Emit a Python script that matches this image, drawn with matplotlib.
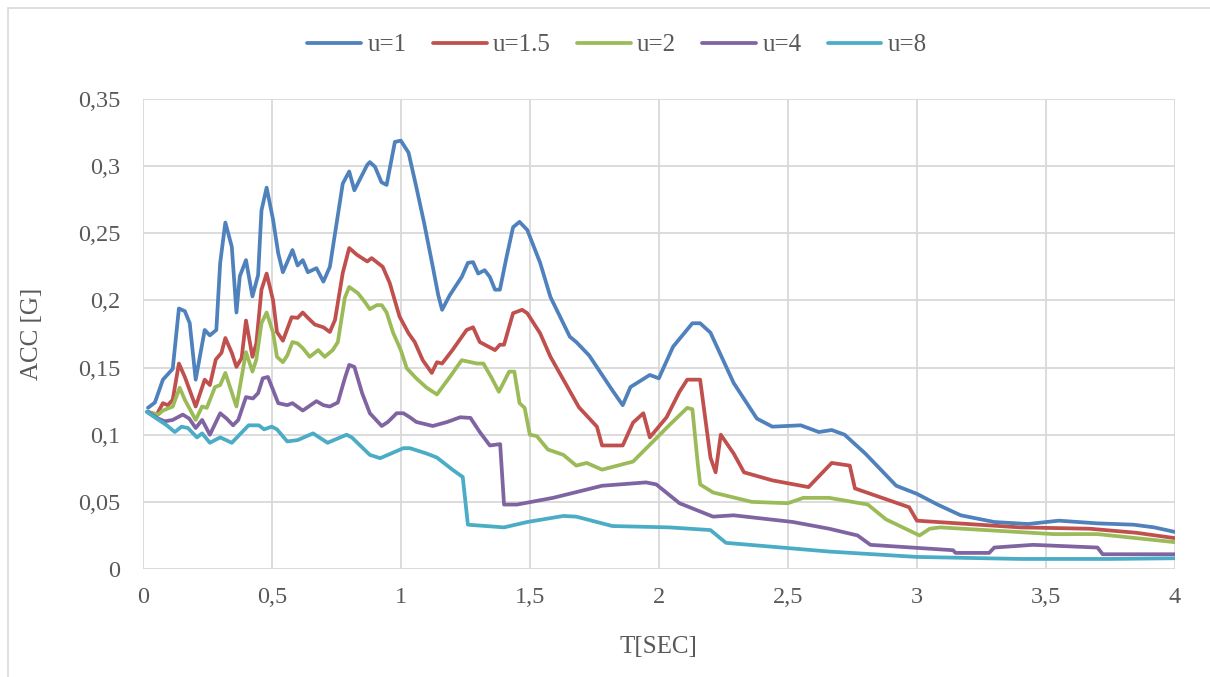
import matplotlib.pyplot as plt
from matplotlib.ticker import FuncFormatter, MultipleLocator
from matplotlib.patches import Rectangle

plt.rcParams['font.family'] = ['Liberation Serif', 'DejaVu Serif']

# u=1
t_u1 = [0.02, 0.047, 0.078, 0.116, 0.14, 0.163, 0.182, 0.205, 0.24, 0.26, 0.285, 0.30, 0.32, 0.345,
        0.363, 0.376, 0.40, 0.425, 0.447, 0.46, 0.48, 0.505, 0.525, 0.543, 0.58, 0.60, 0.62, 0.64,
        0.673, 0.70, 0.725, 0.775, 0.80, 0.82, 0.87, 0.88, 0.90, 0.925, 0.945, 0.977, 1.0, 1.03,
        1.06, 1.09, 1.124, 1.145, 1.16, 1.19, 1.236, 1.26, 1.28, 1.30, 1.325, 1.345, 1.365, 1.384,
        1.41, 1.435, 1.46, 1.49, 1.54, 1.58, 1.655, 1.68, 1.73, 1.82, 1.86, 1.89, 1.965, 2.00,
        2.055, 2.13, 2.16, 2.20, 2.29, 2.38, 2.44, 2.55, 2.62, 2.67, 2.72, 2.80, 2.92, 3.0, 3.08,
        3.17, 3.30, 3.43, 3.55, 3.70, 3.84, 3.92, 4.0]
acc_u1 = [0.120, 0.124, 0.141, 0.149, 0.194, 0.192, 0.183, 0.141, 0.178, 0.174, 0.178, 0.228, 0.258,
          0.240, 0.191, 0.218, 0.230, 0.203, 0.219, 0.267, 0.284, 0.260, 0.235, 0.221, 0.2375, 0.226,
          0.230, 0.221, 0.224, 0.214, 0.225, 0.287, 0.296, 0.282, 0.301, 0.303, 0.2995, 0.288, 0.286,
          0.318, 0.319, 0.310, 0.2845, 0.258, 0.225, 0.204, 0.193, 0.204, 0.2175, 0.228, 0.2285,
          0.220, 0.2225, 0.2175, 0.208, 0.208, 0.2325, 0.2545, 0.2585, 0.2525, 0.228, 0.2025, 0.173,
          0.169, 0.159, 0.133, 0.122, 0.1355, 0.1445, 0.142, 0.1655, 0.183, 0.183, 0.176, 0.1385,
          0.112, 0.106, 0.107, 0.102, 0.1035, 0.100, 0.086, 0.062, 0.056, 0.048, 0.040, 0.035,
          0.0335, 0.036, 0.034, 0.033, 0.031, 0.0276]

# u=1.5
t_u15 = [0.02, 0.054, 0.078, 0.097, 0.116, 0.14, 0.163, 0.205, 0.24, 0.26, 0.283, 0.305, 0.32, 0.345,
         0.363, 0.383, 0.40, 0.425, 0.44, 0.46, 0.48, 0.505, 0.52, 0.543, 0.577, 0.60, 0.62, 0.64,
         0.667, 0.70, 0.725, 0.745, 0.775, 0.80, 0.83, 0.87, 0.887, 0.93, 0.957, 0.995, 1.03, 1.054,
         1.085, 1.12, 1.14, 1.16, 1.20, 1.255, 1.28, 1.306, 1.365, 1.384, 1.40, 1.435, 1.47, 1.49,
         1.54, 1.58, 1.63, 1.69, 1.76, 1.78, 1.86, 1.90, 1.94, 1.965, 2.03, 2.08, 2.11, 2.16, 2.20,
         2.22, 2.24, 2.29, 2.33, 2.44, 2.58, 2.62, 2.67, 2.74, 2.76, 2.97, 3.00, 3.40, 3.67, 3.85, 4.0]
acc_u15 = [0.117, 0.115, 0.1235, 0.122, 0.126, 0.153, 0.143, 0.121, 0.141, 0.137, 0.156, 0.161, 0.172,
           0.161, 0.1505, 0.157, 0.185, 0.158, 0.168, 0.208, 0.220, 0.200, 0.1765, 0.170, 0.1875,
           0.187, 0.191, 0.187, 0.182, 0.180, 0.1765, 0.1855, 0.2205, 0.239, 0.234, 0.229, 0.2315,
           0.225, 0.213, 0.188, 0.1755, 0.169, 0.1555, 0.146, 0.154, 0.153, 0.163, 0.178, 0.180,
           0.169, 0.163, 0.167, 0.167, 0.1905, 0.193, 0.1905, 0.1755, 0.158, 0.141, 0.1205, 0.106,
           0.092, 0.092, 0.109, 0.116, 0.098, 0.113, 0.132, 0.141, 0.141, 0.083, 0.072, 0.100, 0.086,
           0.072, 0.066, 0.061, 0.069, 0.079, 0.077, 0.060, 0.046, 0.036, 0.031, 0.030, 0.027, 0.023]

# u=2
t_u2 = [0.02, 0.06, 0.078, 0.116, 0.143, 0.163, 0.205, 0.23, 0.248, 0.28, 0.30, 0.32, 0.363, 0.40,
        0.425, 0.44, 0.46, 0.48, 0.505, 0.52, 0.543, 0.56, 0.58, 0.60, 0.62, 0.647, 0.68, 0.705,
        0.736, 0.756, 0.783, 0.80, 0.833, 0.86, 0.88, 0.907, 0.926, 0.945, 0.97, 1.0, 1.023, 1.06,
        1.10, 1.14, 1.19, 1.236, 1.295, 1.32, 1.35, 1.38, 1.42, 1.44, 1.46, 1.48, 1.50, 1.527, 1.57,
        1.63, 1.68, 1.72, 1.78, 1.90, 2.04, 2.11, 2.13, 2.15, 2.16, 2.21, 2.36, 2.50, 2.56, 2.66,
        2.81, 2.88, 3.01, 3.05, 3.09, 3.53, 3.70, 3.85, 4.0]
acc_u2 = [0.117, 0.115, 0.118, 0.121, 0.135, 0.126, 0.111, 0.121, 0.120, 0.1355, 0.137, 0.146, 0.121,
          0.1615, 0.147, 0.156, 0.183, 0.191, 0.176, 0.158, 0.154, 0.159, 0.169, 0.168, 0.1645,
          0.158, 0.163, 0.158, 0.163, 0.169, 0.202, 0.210, 0.2055, 0.199, 0.1935, 0.1965, 0.1965,
          0.191, 0.176, 0.163, 0.1495, 0.142, 0.135, 0.130, 0.143, 0.1555, 0.153, 0.153, 0.143,
          0.132, 0.147, 0.147, 0.1235, 0.120, 0.100, 0.099, 0.089, 0.085, 0.077, 0.079, 0.074,
          0.080, 0.107, 0.120, 0.119, 0.080, 0.063, 0.057, 0.050, 0.049, 0.053, 0.053, 0.048,
          0.037, 0.025, 0.030, 0.031, 0.026, 0.026, 0.023, 0.020]

# u=4
t_u4 = [0.02, 0.06, 0.085, 0.116, 0.155, 0.18, 0.205, 0.23, 0.26, 0.30, 0.325, 0.35, 0.37, 0.40,
        0.427, 0.447, 0.465, 0.485, 0.525, 0.56, 0.58, 0.62, 0.673, 0.70, 0.725, 0.756, 0.783,
        0.80, 0.82, 0.85, 0.88, 0.926, 0.95, 0.984, 1.01, 1.035, 1.06, 1.124, 1.18, 1.23, 1.27,
        1.306, 1.345, 1.385, 1.40, 1.45, 1.59, 1.78, 1.95, 1.99, 2.08, 2.21, 2.29, 2.52, 2.66,
        2.77, 2.82, 3.14, 3.15, 3.28, 3.30, 3.45, 3.70, 3.72, 4.0]
acc_u4 = [0.117, 0.112, 0.110, 0.111, 0.115, 0.112, 0.105, 0.111, 0.100, 0.116, 0.112, 0.107, 0.111,
          0.128, 0.127, 0.131, 0.142, 0.143, 0.1235, 0.122, 0.1235, 0.118, 0.125, 0.122, 0.121,
          0.124, 0.142, 0.152, 0.1505, 0.131, 0.116, 0.1065, 0.1095, 0.116, 0.116, 0.113, 0.1095,
          0.1065, 0.1095, 0.113, 0.1125, 0.102, 0.092, 0.093, 0.048, 0.048, 0.053, 0.062, 0.0645,
          0.063, 0.049, 0.039, 0.040, 0.035, 0.030, 0.025, 0.018, 0.014, 0.012, 0.012, 0.016,
          0.018, 0.016, 0.011, 0.011]

# u=8
t_u8 = [0.015, 0.054, 0.093, 0.124, 0.15, 0.175, 0.21, 0.23, 0.26, 0.30, 0.345, 0.41, 0.45, 0.47,
        0.50, 0.52, 0.56, 0.60, 0.66, 0.716, 0.79, 0.81, 0.88, 0.92, 0.95, 1.01, 1.035, 1.10, 1.14,
        1.20, 1.24, 1.26, 1.40, 1.49, 1.63, 1.68, 1.82, 2.04, 2.20, 2.26, 2.66, 3.0, 3.40, 3.75, 4.0]
acc_u8 = [0.117, 0.112, 0.107, 0.102, 0.106, 0.105, 0.098, 0.101, 0.094, 0.098, 0.094, 0.107, 0.107,
          0.104, 0.106, 0.104, 0.095, 0.096, 0.101, 0.094, 0.100, 0.098, 0.085, 0.0825, 0.085,
          0.090, 0.090, 0.086, 0.083, 0.074, 0.0685, 0.033, 0.031, 0.035, 0.0395, 0.039, 0.032,
          0.031, 0.029, 0.0195, 0.013, 0.009, 0.0075, 0.0075, 0.008]

series = [
    ("u=1", t_u1, acc_u1, "#4F81BD"),
    ("u=1.5", t_u15, acc_u15, "#C0504D"),
    ("u=2", t_u2, acc_u2, "#9BBB59"),
    ("u=4", t_u4, acc_u4, "#8064A2"),
    ("u=8", t_u8, acc_u8, "#4BACC6"),
]

fig = plt.figure(figsize=(12.1, 6.77), dpi=100)
ax = fig.add_axes([0.118, 0.1595, 0.853, 0.6943])

for name, t, a, c in series:
    ax.plot(t, a, color=c, lw=2.7, label=name, solid_joinstyle='round', solid_capstyle='round')

ax.set_xlim(0, 4)
ax.set_ylim(0, 0.35)
ax.xaxis.set_major_locator(MultipleLocator(0.5))
ax.yaxis.set_major_locator(MultipleLocator(0.05))
comma = FuncFormatter(lambda v, p: ("%g" % round(v, 3)).replace(".", ","))
ax.xaxis.set_major_formatter(comma)
ax.yaxis.set_major_formatter(comma)

ax.grid(True, color="#D9D9D9", lw=1.3)
ax.set_axisbelow(True)
for s in ax.spines.values():
    s.set_visible(False)
ax.tick_params(length=0, labelsize=17.5, labelcolor="#595959")
ax.tick_params(axis='y', pad=16)
ax.tick_params(axis='x', pad=13)

ax.set_xlabel("T[SEC]", fontsize=18, color="#595959")
ax.set_ylabel("ACC [G]", fontsize=18, color="#595959")
ax.xaxis.set_label_coords(0.5, -0.142)
ax.yaxis.set_label_coords(-0.097, 0.5)

fig.legend(loc="center", bbox_to_anchor=(0.51, 0.9335), ncol=5, frameon=False,
           fontsize=18, handlelength=2.15, columnspacing=1.05, handletextpad=0.25,
           labelcolor="#595959")

fig.patches.append(Rectangle((8 / 1210, -0.05), 1.1, 1 - 8 / 677 + 0.05, transform=fig.transFigure,
                             fill=False, edgecolor="#D9D9D9", lw=1.2))

fig.savefig("out.png", dpi=100)
